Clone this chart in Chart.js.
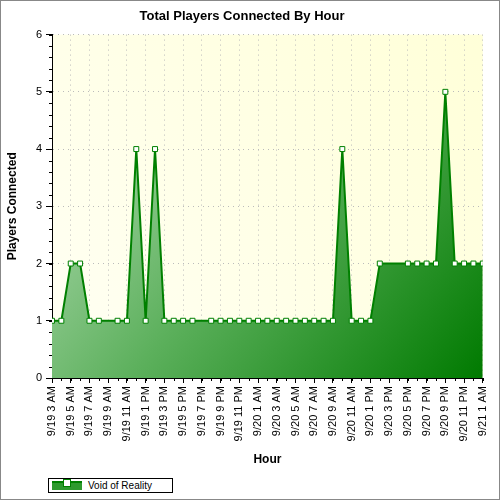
<!DOCTYPE html>
<html lang="en">
<head>
<meta charset="UTF-8">
<title>Total Players Connected By Hour</title>
<script src="https://cdn.jsdelivr.net/npm/chart.js"></script>
<style>
  body { margin: 0; background: #fff; }
  #wrap { position: relative; width: 498px; height: 498px; border: 1px solid #888; }
  #legend { position: absolute; left: 47px; top: 477px; border: 1px solid #000; font: 10px "Liberation Sans", Arial, sans-serif;
            padding: 1px 20px 1px 3px; display: flex; align-items: center; background: #fff; }
  #legend .ico { position: relative; width: 30px; height: 9px; background: #2e9a2e; border-top: 2px solid #008000; margin-right: 6px; box-sizing: border-box; }
  #legend .ico span { position: absolute; left: 11px; top: -4px; width: 6px; height: 6px; background: #fff; border: 1px solid #008000; }
</style>
</head>
<body>
<div id="wrap">
  <canvas id="c" width="498" height="498"></canvas>
  <div id="legend"><div class="ico"><span></span></div>Void of Reality</div>
</div>
<script>
// hours since 9/19 3 AM, players connected (missing hours have no sample)
const hours = [0,1,2,3,4,5,7,8,9,10,11,12,13,14,15,17,18,19,20,21,22,23,24,25,26,27,28,29,30,31,32,33,34,35,38,39,40,41,42,43,44,45,46];
const players = [1,1,2,2,1,1,1,1,4,1,4,1,1,1,1,1,1,1,1,1,1,1,1,1,1,1,1,1,1,4,1,1,1,2,2,2,2,2,5,2,2,2,2];
const tickLabels = ['9/19 3 AM','9/19 5 AM','9/19 7 AM','9/19 9 AM','9/19 11 AM','9/19 1 PM','9/19 3 PM','9/19 5 PM',
  '9/19 7 PM','9/19 9 PM','9/19 11 PM','9/20 1 AM','9/20 3 AM','9/20 5 AM','9/20 7 AM','9/20 9 AM','9/20 11 AM',
  '9/20 1 PM','9/20 3 PM','9/20 5 PM','9/20 7 PM','9/20 9 PM','9/20 11 PM','9/21 1 AM'];

const font = { family: '"Liberation Sans", Arial, sans-serif', size: 11 };

// pale yellow plot background plus minor ticks
const plotDecor = {
  id: 'plotDecor',
  beforeDraw(chart) {
    const { ctx, chartArea: a } = chart;
    const g = ctx.createLinearGradient(a.left, a.bottom, a.right, a.top);
    g.addColorStop(0, '#fffff4');
    g.addColorStop(1, '#ffffd8');
    ctx.save();
    ctx.fillStyle = g;
    ctx.fillRect(a.left, a.top, a.right - a.left, a.bottom - a.top);
    ctx.restore();
  },
  afterDraw(chart) {
    const { ctx, chartArea: a, scales } = chart;
    ctx.save();
    ctx.strokeStyle = '#000';
    ctx.lineWidth = 1;
    ctx.beginPath();
    for (let v = 0; v <= 6.001; v += 0.2) {
      const y = Math.round(scales.y.getPixelForValue(v)) + 0.5;
      ctx.moveTo(a.left - 3, y); ctx.lineTo(a.left, y);
    }
    for (let h = 0; h <= 46; h++) {
      const x = Math.round(scales.x.getPixelForValue(h)) + 0.5;
      ctx.moveTo(x, a.bottom); ctx.lineTo(x, a.bottom + 3);
    }
    ctx.stroke();
    ctx.restore();
  }
};

new Chart(document.getElementById('c'), {
  type: 'line',
  data: {
    datasets: [{
      label: 'Void of Reality',
      data: hours.map((h, i) => ({ x: h, y: players[i] })),
      borderColor: '#008000',
      borderWidth: 2,
      tension: 0,
      fill: 'origin',
      backgroundColor(ctx) {
        const a = ctx.chart.chartArea;
        if (!a) return '#4a4';
        const g = ctx.chart.ctx.createLinearGradient(a.left, a.top, a.right, a.bottom);
        g.addColorStop(0, '#c4e4c4');
        g.addColorStop(0.5, '#5cb05c');
        g.addColorStop(1, '#007a00');
        return g;
      },
      pointStyle: 'rect',
      pointRadius: 3.5,
      pointBackgroundColor: '#fff',
      pointBorderColor: '#008000',
      pointBorderWidth: 1
    }]
  },
  options: {
    responsive: false,
    animation: false,
    layout: { padding: { right: 16, bottom: 28 } },
    plugins: {
      legend: { display: false },
      tooltip: { enabled: false },
      title: { display: true, text: 'Total Players Connected By Hour', color: '#000',
               font: { ...font, size: 13, weight: 'bold' }, padding: { top: 8, bottom: 10 } }
    },
    scales: {
      x: {
        type: 'linear', min: 0, max: 46,
        afterBuildTicks(s) { s.ticks = tickLabels.map((_, i) => ({ value: i * 2 })); },
        ticks: { color: '#000', font, minRotation: 90, maxRotation: 90, autoSkip: false,
                 callback: (v) => tickLabels[v / 2] },
        grid: { color: '#bbb', drawTicks: true, tickLength: 5, tickColor: '#000' },
        border: { color: '#000', dash: [1, 4] },
        title: { display: true, text: 'Hour', color: '#000', font: { ...font, size: 12, weight: 'bold' } },
        afterFit(s) { s.height = 93; }
      },
      y: {
        min: 0, max: 6,
        ticks: { stepSize: 1, color: '#000', font, padding: 4 },
        grid: { color: '#bbb', tickLength: 6, tickColor: '#000' },
        border: { color: '#000', dash: [1, 4] },
        title: { display: true, text: 'Players Connected', color: '#000', font: { ...font, size: 12, weight: 'bold' } },
        afterFit(s) { s.width = 51; }
      }
    }
  },
  plugins: [plotDecor]
});
</script>
</body>
</html>
